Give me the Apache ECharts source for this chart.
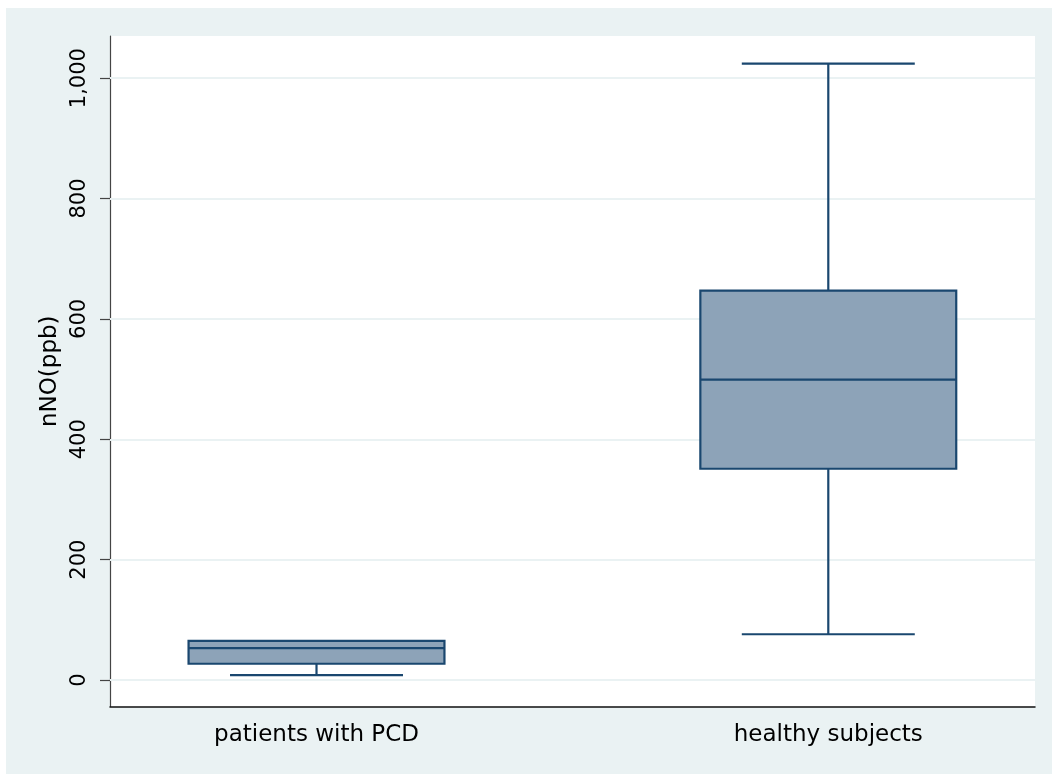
<!DOCTYPE html>
<html>
<head>
<meta charset="utf-8">
<script src="https://cdn.jsdelivr.net/npm/echarts@6/dist/echarts.min.js"></script>
<style>html,body{margin:0;padding:0;background:#fff;overflow:hidden;}#c{width:1052px;height:774px;}</style>
</head>
<body>
<div id="c"></div>
<script>
// ---- data ----
const categories = ['patients with PCD', 'healthy subjects'];
const mins    = [8, 76];
const q1s     = [27, 351];
const medians = [53, 499];
const q3s     = [65, 647];
const maxs    = [65, 1024];
const yTicks  = [0, 200, 400, 600, 800, 1000];
const yTitle  = 'nNO(ppb)';

const boxData = categories.map((c, i) => [i, mins[i], q1s[i], medians[i], q3s[i], maxs[i]]);

const FONT = 'DejaVu Sans';
const NAVY = '#1a476f';
const FILL = '#8da3b8';

function renderBox(params, api) {
  const x = api.value(0);
  const mn = api.value(1), q1 = api.value(2), md = api.value(3), q3 = api.value(4), mx = api.value(5);
  const hw = 0.25, cw = 0.169;
  const pL = api.coord([x - hw, q3]);
  const pR = api.coord([x + hw, q1]);
  const lineStyle = { stroke: NAVY, lineWidth: 2.2 };
  const children = [];
  const line = (x1, y1, x2, y2) => ({ type: 'line', shape: { x1, y1, x2, y2 }, style: lineStyle });
  const c = api.coord([x, 0])[0];
  const pMax = api.coord([x, mx]), pMin = api.coord([x, mn]);
  const capL = api.coord([x - cw, 0])[0], capR = api.coord([x + cw, 0])[0];
  if (mx > q3) {
    children.push(line(c, pL[1], c, pMax[1]));
    children.push(line(capL, pMax[1], capR, pMax[1]));
  }
  if (mn < q1) {
    children.push(line(c, pR[1], c, pMin[1]));
    children.push(line(capL, pMin[1], capR, pMin[1]));
  }
  children.push({
    type: 'rect',
    shape: { x: pL[0], y: pL[1], width: pR[0] - pL[0], height: pR[1] - pL[1] },
    style: { fill: FILL, stroke: NAVY, lineWidth: 2.2 }
  });
  const pMd = api.coord([x, md]);
  children.push(line(pL[0], pMd[1], pR[0], pMd[1]));
  return { type: 'group', children };
}

const chart = echarts.init(document.getElementById('c'), null, { renderer: 'canvas' });
chart.setOption({
  animation: false,
  backgroundColor: '#ffffff',
  graphic: [{
    type: 'rect', z: -10, silent: true,
    shape: { x: 6, y: 8, width: 1100, height: 800 },
    style: { fill: '#eaf2f3' }
  }],
  grid: {
    left: 110, right: 17, top: 36, bottom: 67.5,
    show: true, backgroundColor: '#ffffff', borderWidth: 0
  },
  xAxis: {
    type: 'value',
    min: -0.4035, max: 1.4039,
    axisLine: { show: true, onZero: false, lineStyle: { color: '#111', width: 1.5 } },
    axisTick: { show: false },
    splitLine: { show: false },
    axisLabel: {
      customValues: categories.map((c, i) => i),
      formatter: v => categories[Math.round(v)] || '',
      fontFamily: FONT, fontSize: 23, color: '#000', margin: 17
    }
  },
  yAxis: {
    type: 'value',
    min: -44, max: 1070,
    name: yTitle,
    nameLocation: 'middle',
    nameRotate: 90,
    nameGap: 33,
    nameTextStyle: { fontFamily: FONT, fontSize: 23, color: '#000' },
    axisLine: { show: true, onZero: false, lineStyle: { color: '#444', width: 1.2 } },
    axisTick: { show: true, customValues: yTicks, length: 10, lineStyle: { color: '#444', width: 1.2 } },
    splitLine: { show: false },
    axisLabel: {
      customValues: yTicks,
      rotate: 90,
      margin: 20,
      fontFamily: FONT, fontSize: 21, color: '#000',
      formatter: v => v.toLocaleString('en-US')
    }
  },
  series: [{
    type: 'custom',
    z: 2,
    renderItem: renderBox,
    encode: { x: 0, y: [1, 2, 3, 4, 5] },
    data: boxData,
    markLine: {
      z: 1,
      silent: true,
      symbol: ['none', 'none'],
      label: { show: false },
      lineStyle: { color: '#eaf2f3', width: 2, type: 'solid' },
      emphasis: { disabled: true },
      data: yTicks.map(v => ({ yAxis: v }))
    }
  }]
});
</script>
</body>
</html>
